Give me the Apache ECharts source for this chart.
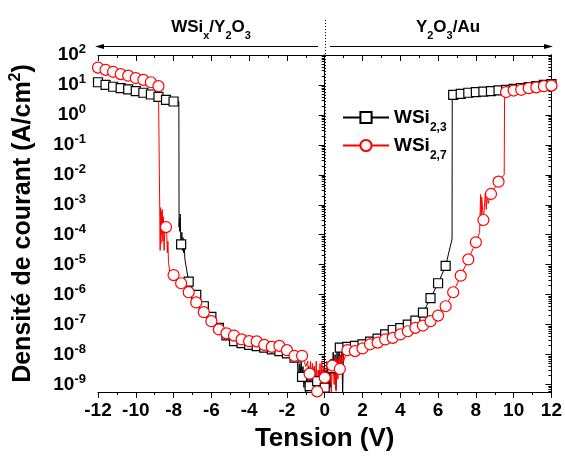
<!DOCTYPE html>
<html>
<head>
<meta charset="utf-8">
<script src="https://cdn.jsdelivr.net/npm/echarts@6/dist/echarts.min.js"></script>
<style>
  html, body { margin: 0; padding: 0; background: #fff; }
  #chart { width: 565px; height: 457px; }
</style>
</head>
<body>
<div id="chart"></div>
<script>
// Voltage grid of the marked points (V)
const volts = [-12, -11.6, -11.2, -10.8, -10.4, -10, -9.6, -9.2, -8.8, -8.4, -8,
  -7.6, -7.2, -6.8, -6.4, -6, -5.6, -5.2, -4.8, -4.4, -4,
  -3.6, -3.2, -2.8, -2.4, -2, -1.6, -1.2, -0.8, -0.4, 0,
  0.4, 0.8, 1.2, 1.6, 2, 2.4, 2.8, 3.2, 3.6, 4,
  4.4, 4.8, 5.2, 5.6, 6, 6.4, 6.8, 7.2, 7.6, 8,
  8.4, 8.8, 9.2, 9.6, 10, 10.4, 10.8, 11.2, 11.6, 12];

// current density (A/cm2), WSi2,3
const j23 = [12.3, 10, 8.7, 7.8, 7.1, 6.2, 5.5, 4.8, 4.0, 3.2, 2.8,
  4.8e-5, 2.7e-6, 9.8e-7, 4.1e-7, 1.8e-7, 7.8e-8, 4.4e-8, 2.8e-8, 2.4e-8, 2.1e-8,
  1.9e-8, 1.7e-8, 1.5e-8, 1.3e-8, 1.1e-8, 7.9e-9, 1.8e-9, 8.9e-10, 1.3e-9, 7.9e-10,
  3.5e-9, 1.7e-8, 1.8e-8, 1.95e-8, 2.2e-8, 2.7e-8, 3.4e-8, 4.7e-8, 6.6e-8, 7.6e-8,
  1.0e-7, 1.35e-7, 2.5e-7, 7.6e-7, 2.4e-6, 9.1e-6, 4.7, 5.0, 5.5, 5.8,
  6.0, 6.2, 6.6, 6.9, 7.4, 7.9, 8.5, 9.1, 10, 10.7];

// current density (A/cm2), WSi2,7
const j27 = [38, 32, 27.5, 23, 20.4, 17, 14.8, 12.3, 9.1, 1.8e-4, 4.5e-6,
  2.4e-6, 1.2e-6, 5.5e-7, 2.6e-7, 1.3e-7, 6.9e-8, 5.1e-8, 4.3e-8, 3.2e-8, 2.8e-8,
  2.75e-8, 2.1e-8, 1.8e-8, 1.95e-8, 1.4e-8, 9.1e-9, 9.1e-9, 2.3e-9, 5.9e-10, 1.7e-9,
  4.3e-9, 3.3e-9, 1.4e-8, 1.3e-8, 1.6e-8, 2.2e-8, 2.5e-8, 3.2e-8, 3.6e-8, 4.7e-8,
  6.0e-8, 7.8e-8, 9.3e-8, 1.3e-7, 2.0e-7, 4.1e-7, 1.2e-6, 4.3e-6, 1.5e-5, 5.6e-5,
  3.1e-4, 2.3e-3, 5.9e-3, 5.8, 6.5, 6.9, 7.8, 8.3, 9.1, 9.5];

// unmarked points (switching jumps and noise), WSi2,3
const noiseV23 = [-7.72, -7.71, -7.69, -7.67, -7.65, -7.63, -7.56, -7.53, -7.5, -7.47, -7.43, -7.4,
  -1.45, -1.4, -1.35, -1.3, -1.25, -1.15, -1.1, -1.05, -1.0, -0.95, -0.9, -0.85,
  -0.75, -0.7, -0.65, -0.6, -0.55, -0.5, -0.45, -0.35, -0.3, -0.25, -0.2, -0.15, -0.1, -0.05,
  0.05, 0.1, 0.15, 0.2, 0.25, 0.3, 0.35, 0.45, 0.5, 0.55, 0.6, 0.65, 0.7, 0.75,
  0.85, 0.9, 0.95, 1.0, 6.74, 6.75];
const noiseJ23 = [2.8, 1.8e-4, 3.5e-4, 1.3e-4, 4.9e-4, 1.0e-4, 1.2e-4, 3.0e-5, 8e-5, 2.5e-5, 4e-5, 1.5e-5,
  7e-9, 1.5e-9, 5e-9, 2e-9, 6e-9, 4e-9, 8e-10, 3e-9, 5e-10, 2.5e-9, 6e-10, 4e-9,
  2e-9, 5e-10, 3e-9, 1e-9, 4e-9, 6e-10, 2e-9, 5e-10, 3e-9, 7e-10, 2.5e-9, 4e-10, 1.5e-9, 5e-10,
  3e-9, 6e-10, 5e-9, 1e-9, 6e-9, 8e-10, 7e-9, 1.2e-8, 2e-9, 1e-8, 7e-10, 1.2e-8, 3e-9, 1.5e-8,
  4e-9, 1.4e-8, 5e-10, 1.6e-8, 7.2e-5, 4.5];

// unmarked points (switching jumps and noise), WSi2,7
const noiseV27 = [-8.72, -8.71, -8.69, -8.67, -8.65, -8.62, -8.6, -8.57, -8.54, -8.5, -8.46,
  -8.36, -8.33, -8.3, -8.27, -8.2,
  -1.0, -0.9, -0.85, -0.75, -0.7, -0.65, -0.6, -0.55, -0.5, -0.45,
  -0.35, -0.3, -0.25, -0.2, -0.15, -0.1, -0.05, 0.05, 0.1, 0.15, 0.2, 0.25, 0.3, 0.35,
  0.45, 0.5, 0.55, 0.6, 0.65, 0.7, 0.75, 0.85, 0.9, 0.95, 1.0,
  8.2, 8.25, 8.28, 8.31, 8.45, 8.5, 8.55, 8.6, 8.65, 9.5, 9.52];
const noiseJ27 = [9.0, 3.0e-5, 8e-4, 5e-5, 6e-4, 1e-4, 7e-4, 6e-5, 4e-4, 3e-5, 2e-4,
  1e-4, 2.5e-5, 6e-5, 1.2e-5, 6e-6,
  4e-9, 6e-9, 1.5e-9, 6e-9, 1e-9, 5e-9, 7e-10, 4e-9, 1.2e-9, 6e-9,
  3e-9, 5e-10, 5e-9, 8e-10, 6e-9, 5e-10, 4e-9, 5e-10, 6e-9, 4e-10, 5e-9, 1e-9, 7e-9, 5e-10,
  6e-9, 1e-9, 8e-9, 6e-10, 7e-9, 1.5e-9, 9e-9, 1e-8, 4e-9, 1.2e-8, 6e-9,
  1.2e-4, 2.2e-3, 2e-4, 1.8e-3, 8e-4, 2.5e-3, 7e-4, 2.2e-3, 1.1e-3, 1.0e-2, 5.0];

const yTickExps = [-9, -8, -7, -6, -5, -4, -3, -2, -1, 0, 1, 2];
const yMin = -9.25, yMax = 2;

const FONT = 'Liberation Sans, Arial, sans-serif';

// log10 minor ticks (2..9 in each decade)
const yMinor = [];
for (let n = -10; n <= 1; n++) {
  for (let k = 2; k <= 9; k++) {
    const t = n + Math.log10(k);
    if (t >= yMin && t <= yMax) yMinor.push(t);
  }
}

function buildData(v, j, nv, nj) {
  const pts = v.map((x, i) => ({ value: [x, Math.log10(j[i])] }));
  nv.forEach((x, i) => pts.push({ value: [x, Math.log10(nj[i])], symbol: 'none' }));
  pts.sort((a, b) => a.value[0] - b.value[0]);
  return pts;
}

const chart = echarts.init(document.getElementById('chart'));

const black = { color: '#000', width: 1 };

function yAxisDef(pos, ticks, len, inside, labels) {
  return {
    type: 'value', min: yMin, max: yMax, position: pos,
    axisLine: { show: true, lineStyle: black },
    axisTick: { show: true, customValues: ticks, length: len, inside: inside, lineStyle: black },
    axisLabel: labels ? {
      customValues: yTickExps,
      margin: 12,
      formatter: v => '{b|10}{s|' + v + '}',
      rich: {
        b: { fontFamily: FONT, fontWeight: 'bold', fontSize: 19, color: '#000', lineHeight: 24 },
        s: { fontFamily: FONT, fontWeight: 'bold', fontSize: 13, color: '#000', lineHeight: 13, verticalAlign: 'top' }
      }
    } : { show: false },
    splitLine: { show: false }
  };
}

const yAxes = [
  yAxisDef('left', yTickExps, 6, false, true),
  yAxisDef('left', yMinor, 3, false, false),
  yAxisDef('right', yTickExps, 6, true, false),
  yAxisDef('right', yMinor, 3, true, false)
];
yAxes[0].name = '{t|Densité de courant (A/cm}{u|2}{t|)}';
yAxes[0].nameLocation = 'middle';
yAxes[0].nameGap = 60;
yAxes[0].nameTextStyle = {
  rich: {
    t: { fontFamily: FONT, fontWeight: 'bold', fontSize: 25, color: '#000', lineHeight: 30 },
    u: { fontFamily: FONT, fontWeight: 'bold', fontSize: 16, color: '#000', lineHeight: 16, verticalAlign: 'top' }
  }
};

const xAxes = [
  {
    type: 'value', min: -12, max: 12, interval: 2, position: 'bottom',
    name: 'Tension (V)', nameLocation: 'middle', nameGap: 34,
    nameTextStyle: { fontFamily: FONT, fontWeight: 'bold', fontSize: 26, color: '#000' },
    axisLine: { show: true, onZero: false, lineStyle: black },
    axisTick: { show: true, length: 6, lineStyle: black },
    minorTick: { show: true, splitNumber: 2, length: 3, lineStyle: black },
    axisLabel: { fontFamily: FONT, fontWeight: 'bold', fontSize: 19, color: '#000', margin: 9 },
    splitLine: { show: false }
  },
  {
    type: 'value', min: -12, max: 12, interval: 2, position: 'top',
    axisLine: { show: true, onZero: false, lineStyle: black },
    axisTick: { show: true, inside: true, length: 6, lineStyle: black },
    minorTick: { show: true, splitNumber: 2, length: 3, lineStyle: black },
    axisLabel: { show: false },
    splitLine: { show: false }
  }
];

const sub = (size) => ({ fontFamily: FONT, fontWeight: 'bold', fontSize: size, color: '#000' });

function legendDef(name, subText, top) {
  return {
    data: [name], left: 337, top: top, orient: 'vertical',
    itemWidth: 46, itemHeight: 14,
    formatter: () => '{a|WSi}{b|' + subText + '}',
    textStyle: { rich: {
      a: Object.assign(sub(19), { lineHeight: 20 }),
      b: Object.assign(sub(12), { lineHeight: 32, verticalAlign: 'bottom' })
    } }
  };
}

chart.setOption({
  animation: false,
  backgroundColor: '#fff',
  grid: { left: 95, right: 11, top: 55, bottom: 60 },
  xAxis: xAxes,
  yAxis: yAxes,
  legend: [
    legendDef('WSi2,3', '2,3', 103),
    legendDef('WSi2,7', '2,7', 131)
  ],
  graphic: { elements: [
    {
      id: 'lblLeft', type: 'text', x: 211, y: 27,
      style: {
        text: '{a|WSi}{s|x}{a|/Y}{s|2}{a|O}{s|3}',
        align: 'center', verticalAlign: 'middle',
        rich: {
          a: Object.assign(sub(17), { lineHeight: 18 }),
          s: Object.assign(sub(11), { lineHeight: 28, verticalAlign: 'bottom' })
        }
      }
    },
    {
      id: 'lblRight', type: 'text', x: 448, y: 27,
      style: {
        text: '{a|Y}{s|2}{a|O}{s|3}{a|/Au}',
        align: 'center', verticalAlign: 'middle',
        rich: {
          a: Object.assign(sub(17), { lineHeight: 18 }),
          s: Object.assign(sub(11), { lineHeight: 28, verticalAlign: 'bottom' })
        }
      }
    },
    { id: 'arrL', type: 'line', shape: { x1: 318, y1: 46.5, x2: 100, y2: 46.5 }, style: { stroke: '#000', lineWidth: 1 } },
    { id: 'arrLh', type: 'polygon', shape: { points: [[95, 46.5], [104, 44], [104, 49]] }, style: { fill: '#000' } },
    { id: 'arrR', type: 'line', shape: { x1: 330, y1: 46.5, x2: 548, y2: 46.5 }, style: { stroke: '#000', lineWidth: 1 } },
    { id: 'arrRh', type: 'polygon', shape: { points: [[553, 46.5], [544, 44], [544, 49]] }, style: { fill: '#000' } }
  ] },
  series: [
    {
      name: 'WSi2,3', type: 'line', xAxisIndex: 0, yAxisIndex: 0,
      data: buildData(volts, j23, noiseV23, noiseJ23),
      symbol: 'rect', symbolSize: 9, showSymbol: true, showAllSymbol: true,
      lineStyle: { color: '#000', width: 1 },
      itemStyle: { color: '#fff', borderColor: '#000', borderWidth: 1.2 },
      emphasis: { disabled: true },
      clip: true
    },
    {
      name: 'WSi2,7', type: 'line', xAxisIndex: 0, yAxisIndex: 0,
      data: buildData(volts, j27, noiseV27, noiseJ27),
      symbol: 'circle', symbolSize: 11, showSymbol: true, showAllSymbol: true,
      lineStyle: { color: '#ff0000', width: 1 },
      itemStyle: { color: '#fff', borderColor: '#ff0000', borderWidth: 1.2 },
      emphasis: { disabled: true },
      clip: true
    }
  ]
});

// dotted separator at 0 V, running up past the frame
const x0 = Math.round(chart.convertToPixel({ xAxisIndex: 0 }, 0)) + 0.5;
const yBottom = chart.convertToPixel({ yAxisIndex: 0 }, yMin);
chart.setOption({
  graphic: { elements: [
    { id: 'zero', type: 'line', shape: { x1: x0, y1: 20, x2: x0, y2: yBottom },
      style: { stroke: '#000', lineWidth: 1, lineDash: [1, 2] }, z: 1 }
  ] }
});
</script>
</body>
</html>
